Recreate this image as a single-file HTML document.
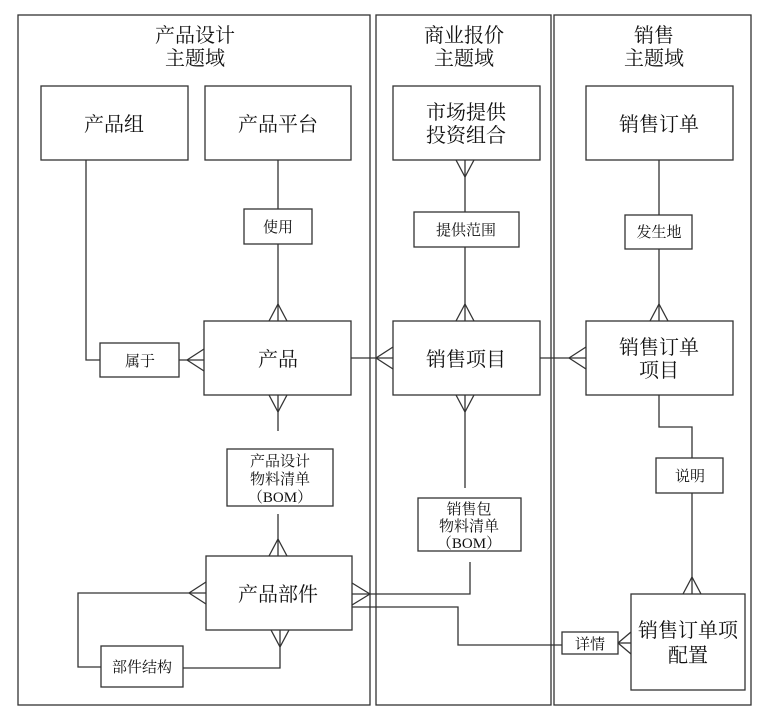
<!DOCTYPE html>
<html><head><meta charset="utf-8"><style>
html,body{margin:0;padding:0;background:#fff}
svg text{font-family:"Liberation Serif","Noto Serif CJK SC",serif;fill:#111;text-anchor:middle}
</style></head><body>
<svg width="759" height="712" viewBox="0 0 759 712" xmlns="http://www.w3.org/2000/svg">
<g fill="none" stroke="#333" stroke-width="1.3">
<rect x="18" y="15" width="352" height="690"/>
<rect x="376" y="15" width="175" height="690"/>
<rect x="554" y="15" width="197" height="690"/>
<rect x="41" y="86" width="147" height="74"/>
<rect x="205" y="86" width="146" height="74"/>
<rect x="244" y="209" width="68" height="35"/>
<rect x="204" y="321" width="147" height="74"/>
<rect x="100" y="343" width="79" height="34"/>
<rect x="227" y="449" width="106" height="57"/>
<rect x="206" y="556" width="146" height="74"/>
<rect x="101" y="646" width="82" height="41"/>
<rect x="393" y="86" width="147" height="74"/>
<rect x="414" y="212" width="105" height="35"/>
<rect x="393" y="321" width="147" height="74"/>
<rect x="418" y="498" width="103" height="53"/>
<rect x="586" y="86" width="147" height="74"/>
<rect x="625" y="215" width="67" height="34"/>
<rect x="586" y="321" width="147" height="74"/>
<rect x="656" y="458" width="67" height="35"/>
<rect x="631" y="594" width="114" height="96"/>
<rect x="562" y="632" width="56" height="22"/>
<polyline points="86,160 86,360 100,360"/>
<line x1="179" y1="360" x2="204" y2="360"/>
<line x1="187" y1="360" x2="204" y2="349"/><line x1="187" y1="360" x2="204" y2="371"/>
<line x1="278" y1="160" x2="278" y2="209"/>
<line x1="278" y1="244" x2="278" y2="321"/>
<line x1="278" y1="304" x2="269" y2="321"/><line x1="278" y1="304" x2="287" y2="321"/>
<line x1="278" y1="395" x2="278" y2="431"/>
<line x1="278" y1="412" x2="269" y2="395"/><line x1="278" y1="412" x2="287" y2="395"/>
<line x1="278" y1="514" x2="278" y2="556"/>
<line x1="278" y1="539" x2="269" y2="556"/><line x1="278" y1="539" x2="287" y2="556"/>
<line x1="351" y1="358" x2="393" y2="358"/>
<line x1="376" y1="358" x2="393" y2="347"/><line x1="376" y1="358" x2="393" y2="369"/>
<line x1="465" y1="160" x2="465" y2="212"/>
<line x1="465" y1="177" x2="456" y2="160"/><line x1="465" y1="177" x2="474" y2="160"/>
<line x1="465" y1="247" x2="465" y2="321"/>
<line x1="465" y1="304" x2="456" y2="321"/><line x1="465" y1="304" x2="474" y2="321"/>
<line x1="465" y1="395" x2="465" y2="488"/>
<line x1="465" y1="412" x2="456" y2="395"/><line x1="465" y1="412" x2="474" y2="395"/>
<line x1="540" y1="358" x2="586" y2="358"/>
<line x1="569" y1="358" x2="586" y2="347"/><line x1="569" y1="358" x2="586" y2="369"/>
<line x1="659" y1="160" x2="659" y2="215"/>
<line x1="659" y1="249" x2="659" y2="321"/>
<line x1="659" y1="304" x2="650" y2="321"/><line x1="659" y1="304" x2="668" y2="321"/>
<polyline points="659,395 659,427 692,427 692,458"/>
<line x1="692" y1="493" x2="692" y2="594"/>
<line x1="692" y1="577" x2="683" y2="594"/><line x1="692" y1="577" x2="701" y2="594"/>
<polyline points="470,562 470,594 352,594"/>
<line x1="370" y1="594" x2="352" y2="583"/><line x1="370" y1="594" x2="352" y2="605"/>
<polyline points="352,607 458,607 458,645 562,645"/>
<line x1="618" y1="643" x2="631" y2="643"/>
<line x1="618" y1="643" x2="631" y2="632"/><line x1="618" y1="643" x2="631" y2="654"/>
<polyline points="206,593 78,593 78,667 101,667"/>
<line x1="189" y1="593" x2="206" y2="582"/><line x1="189" y1="593" x2="206" y2="604"/>
<polyline points="183,668 280,668 280,630"/>
<line x1="280" y1="647" x2="271" y2="630"/><line x1="280" y1="647" x2="289" y2="630"/>
</g>
<g font-size="20">
<text x="195" y="42">产品设计</text><text x="195" y="65">主题域</text>
<text x="464" y="42">商业报价</text><text x="464" y="65">主题域</text>
<text x="654" y="42">销售</text><text x="654" y="65">主题域</text>
<text x="114" y="131">产品组</text>
<text x="278" y="131">产品平台</text>
<text x="278" y="366">产品</text>
<text x="278" y="601">产品部件</text>
<text x="466" y="119">市场提供</text><text x="466" y="142">投资组合</text>
<text x="466" y="366">销售项目</text>
<text x="659" y="131">销售订单</text>
<text x="659" y="354">销售订单</text><text x="659" y="377">项目</text>
<text x="688" y="637">销售订单项</text><text x="688" y="662">配置</text>
</g>
<g font-size="15">
<text x="278" y="232">使用</text>
<text x="140" y="366">属于</text>
<text x="280" y="466">产品设计</text><text x="280" y="484">物料清单</text><text x="280" y="502">（BOM）</text>
<text x="142" y="672">部件结构</text>
<text x="466" y="235">提供范围</text>
<text x="469" y="514">销售包</text><text x="469" y="531">物料清单</text><text x="469" y="548">（BOM）</text>
<text x="659" y="237">发生地</text>
<text x="690" y="481">说明</text>
<text x="590" y="649">详情</text>
</g>
</svg>
</body></html>
